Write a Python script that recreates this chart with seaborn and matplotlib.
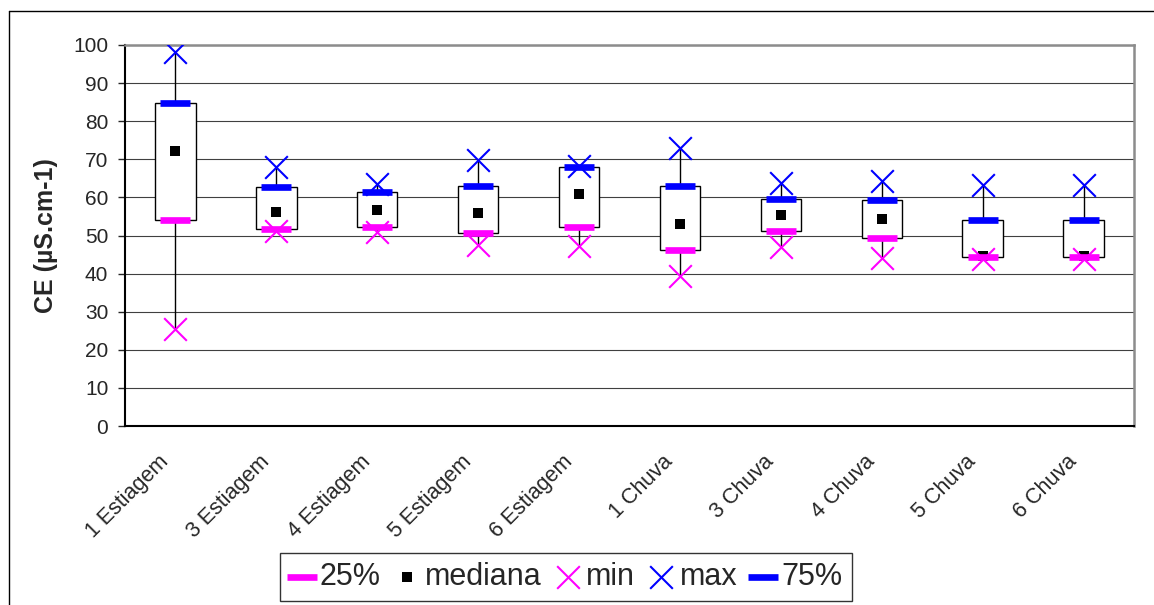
import matplotlib
matplotlib.use('Agg')

import numpy as np
import pandas as pd
import matplotlib.pyplot as plt
import matplotlib.transforms as mtransforms
from matplotlib.lines import Line2D
import seaborn as sns

# valores (CE em uS/cm)
pontos = ['1 Estiagem', '3 Estiagem', '4 Estiagem', '5 Estiagem', '6 Estiagem',
          '1 Chuva', '3 Chuva', '4 Chuva', '5 Chuva', '6 Chuva']
minimo = [25.5, 51.2, 51.0, 47.5, 47.2, 39.4, 46.9, 44.0, 43.8, 43.8]
q25 = [54.1, 51.6, 52.2, 50.6, 52.3, 46.2, 51.2, 49.3, 44.4, 44.4]
mediana = [72.1, 56.1, 56.6, 55.8, 60.8, 52.9, 55.3, 54.2, 44.7, 44.7]
q75 = [84.9, 62.7, 61.4, 63.0, 68.0, 63.0, 59.6, 59.3, 54.0, 54.0]
maximo = [98.2, 68.1, 63.5, 69.7, 68.2, 72.9, 63.9, 64.3, 63.3, 63.3]

df = pd.DataFrame({'ponto': pontos, 'min': minimo, 'q25': q25,
                   'mediana': mediana, 'q75': q75, 'max': maximo})

sns.set_style('white')
plt.rcParams['font.family'] = ['Liberation Sans', 'DejaVu Sans']

fig = plt.figure(figsize=(11.54, 6.05), dpi=100)
ax = fig.add_axes([125 / 1154, 1 - 426 / 605, 1009 / 1154, 381 / 605])

# linhas min-max e caixas 25%-75%
ax.vlines(df['ponto'], df['min'], df['max'], color='black', lw=1, zorder=1)
ax.bar(df['ponto'], df['q75'] - df['q25'], bottom=df['q25'], width=0.4,
       color='white', edgecolor='black', linewidth=1, zorder=2)

sns.scatterplot(data=df, x='ponto', y='mediana', marker='s', color='black',
                s=42, linewidth=0, label='mediana', ax=ax, zorder=3)
sns.scatterplot(data=df, x='ponto', y='q25', marker='_', color='#FF00FF',
                s=440, linewidth=4.8, label='25%', ax=ax, zorder=4)
sns.scatterplot(data=df, x='ponto', y='min', marker='x', color='#FF00FF',
                s=266, linewidth=1.5, label='min', ax=ax, zorder=5)
sns.scatterplot(data=df, x='ponto', y='q75', marker='_', color='#0000FF',
                s=440, linewidth=4.8, label='75%', ax=ax, zorder=4)
sns.scatterplot(data=df, x='ponto', y='max', marker='x', color='#0000FF',
                s=266, linewidth=1.5, label='max', ax=ax, zorder=5)

ax.set_xlim(-0.5, len(pontos) - 0.5)
ax.set_ylim(0, 100)
ax.set_yticks(np.arange(0, 101, 10))
ax.set_xticks(np.arange(len(pontos)))
ax.set_xticklabels(pontos, rotation=45, ha='right', va='center', rotation_mode='anchor')
ax.set_xticks(np.arange(len(pontos) + 1) - 0.5, minor=True)
ax.tick_params(axis='x', which='major', length=0, pad=22, labelsize=15.5)
ax.tick_params(axis='x', which='minor', length=13, width=1, direction='inout', color='0.3')
ax.tick_params(axis='y', length=5, width=1, direction='out', pad=7, labelsize=15, left=True)
ax.yaxis.grid(True, color='0.25', lw=0.8)
ax.set_axisbelow(True)

# rotulos do eixo x um pouco para a esquerda, como no original
desloc = mtransforms.ScaledTranslation(-0.10, -0.02, fig.dpi_scale_trans)
for lbl in ax.get_xticklabels():
    lbl.set_transform(lbl.get_transform() + desloc)

ax.set_xlabel('')
ax.set_ylabel('CE (µS.cm-1)', fontsize=18, fontweight='bold', labelpad=11)

for lado in ['left', 'bottom']:
    ax.spines[lado].set_color('black')
    ax.spines[lado].set_linewidth(1.5)
for lado in ['top', 'right']:
    ax.spines[lado].set_color('0.55')
    ax.spines[lado].set_linewidth(1.8)

# legenda na ordem do original
handles, labels = ax.get_legend_handles_labels()
ordem = ['25%', 'mediana', 'min', 'max', '75%']
hmap = dict(zip(labels, handles))
if ax.get_legend() is not None:
    ax.get_legend().remove()
leg = fig.legend([hmap[k] for k in ordem], ordem, loc='center',
                 bbox_to_anchor=(566 / 1154, 1 - 577 / 605), ncol=5,
                 fontsize=22, frameon=True, fancybox=False, edgecolor='black',
                 handlelength=0.8, handletextpad=0.2, columnspacing=0.45,
                 borderpad=0.3, borderaxespad=0)
leg.get_frame().set_linewidth(1)

# moldura da figura (so esquerda e topo visiveis)
fig.add_artist(Line2D([9 / 1154, 9 / 1154], [0, 1 - 11 / 605], color='black', lw=1))
fig.add_artist(Line2D([9 / 1154, 1], [1 - 11 / 605, 1 - 11 / 605], color='black', lw=1))

plt.savefig('out.png', dpi=100)
plt.close()
